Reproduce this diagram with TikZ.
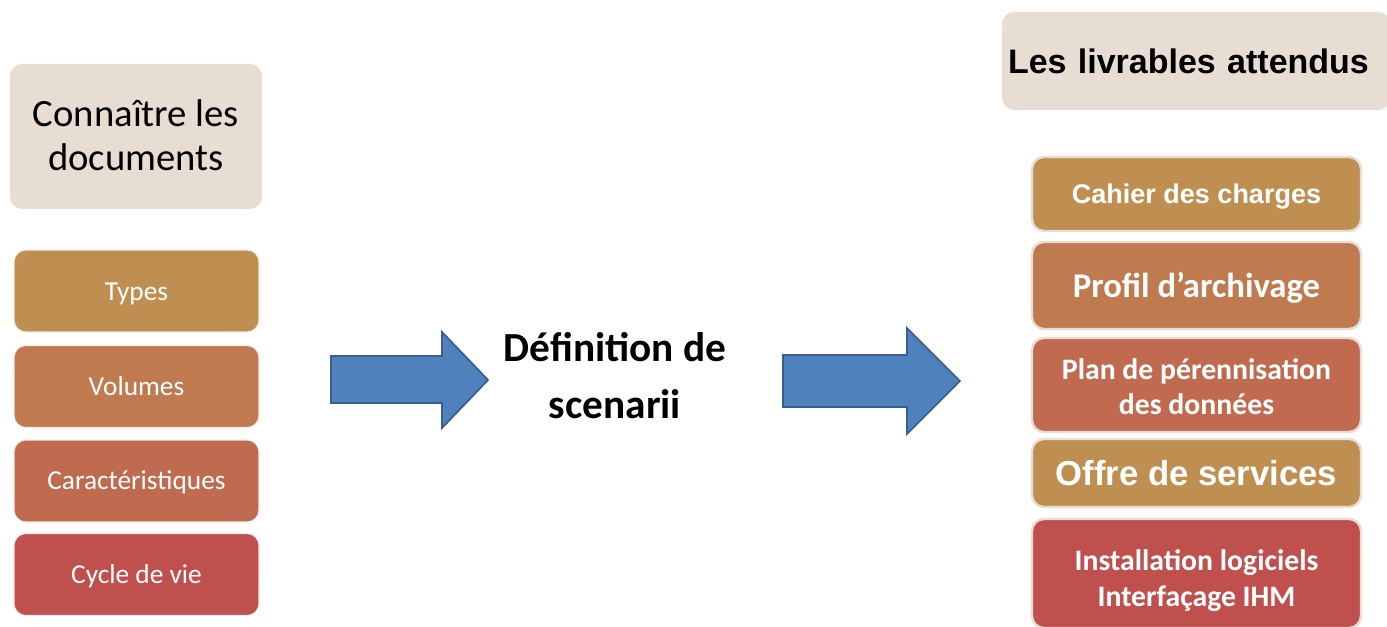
\documentclass[tikz,border=0pt]{standalone}
\usepackage{fontspec}
\setmainfont{Carlito}
\newfontfamily\arialb{Liberation Sans}
\definecolor{beige}{HTML}{E8DDD3}
\definecolor{cA}{HTML}{BF8F52}
\definecolor{cB}{HTML}{BF7A50}
\definecolor{cC}{HTML}{C06A50}
\definecolor{cD}{HTML}{C0504D}
\definecolor{arrfill}{HTML}{4F81BD}
\definecolor{arrdraw}{HTML}{3A5F8C}
\newcommand{\dn}[2]{\raisebox{-#1}[\height][\depth]{\begin{tabular}{@{}c@{}}#2\end{tabular}}}
\begin{document}
\begin{tikzpicture}[x=0.75pt,y=-0.75pt,
  box/.style={rounded corners=9pt, inner sep=0pt, align=center, text=white},
  lbox/.style={box, minimum width=245*0.75pt, minimum height=82*0.75pt, draw=beige!60!white, line width=0.8pt,
     font=\fontsize{20.5}{24}\selectfont},
  rbox/.style={box, minimum width=329*0.75pt, draw=beige, line width=1.8pt},
  blockarrow/.style={fill=arrfill, draw=arrdraw, line width=1.3pt, line join=miter}]
\useasboundingbox (0,0) rectangle (1387,627);
\fill[white] (0,0) rectangle (1387,627);

% left column
\node[box, fill=beige, text=black, minimum width=252*0.75pt, minimum height=145*0.75pt,
  font=\fontsize{29}{33}\selectfont] (conn) at (136,136.5) {\dn{2.2pt}{Connaître les\\documents}};
\node[lbox, fill=cA] (types) at (136.5,291) {\dn{2.2pt}{Types}};
\node[lbox, fill=cB] (vol) at (136.5,386.5) {\dn{2.2pt}{Volumes}};
\node[lbox, fill=cC] (car) at (136.5,481) {\dn{1.5pt}{Caractéristiques}};
\node[lbox, fill=cD] (cyc) at (136.5,574.5) {\dn{2.2pt}{Cycle de vie}};

% arrows
\draw[blockarrow] (331,356) -- (442,356) -- (442,332) -- (488,380) -- (442,428) -- (442,403) -- (331,403) -- cycle;
\draw[blockarrow] (783,355) -- (907,355) -- (907,328) -- (960,381) -- (907,434) -- (907,407) -- (783,407) -- cycle;

% middle text
\node[align=center, font=\bfseries\fontsize{31}{42.75}\selectfont, inner sep=0pt] (def) at (615,375.5) {Définition de\\scenarii};

% right column
\node[box, fill=beige, text=black, minimum width=388*0.75pt, minimum height=98*0.75pt,
  text width=376*0.75pt, align=left, inner xsep=6*0.75pt,
  font=\arialb\bfseries\fontsize{25.5}{30}\selectfont] (livr) at (1196,61) {Les livrables attendus};
\node[rbox, fill=cA, minimum height=74*0.75pt, font=\arialb\bfseries\fontsize{20.25}{24}\selectfont] (cahier) at (1196.5,194) {\dn{2.2pt}{Cahier des charges}};
\node[rbox, fill=cB, minimum height=87*0.75pt, font=\bfseries\fontsize{26}{30}\selectfont] (profil) at (1196.5,285.5) {\dn{3pt}{Profil d’archivage}};
\node[rbox, fill=cC, minimum height=94*0.75pt, font=\bfseries\fontsize{22.3}{26.25}\selectfont] (plan) at (1196.5,385) {\dn{3.7pt}{Plan de pérennisation\\des données}};
\node[rbox, fill=cA, minimum height=68*0.75pt, font=\arialb\bfseries\fontsize{26}{30}\selectfont] (offre) at (1196.5,473) {\dn{3.7pt}{Offre de services}};
\node[rbox, fill=cD, minimum height=109*0.75pt, font=\bfseries\fontsize{22.3}{27}\selectfont] (inst) at (1196.5,573.5) {\dn{6pt}{Installation logiciels\\Interfaçage IHM}};
\end{tikzpicture}
\end{document}
